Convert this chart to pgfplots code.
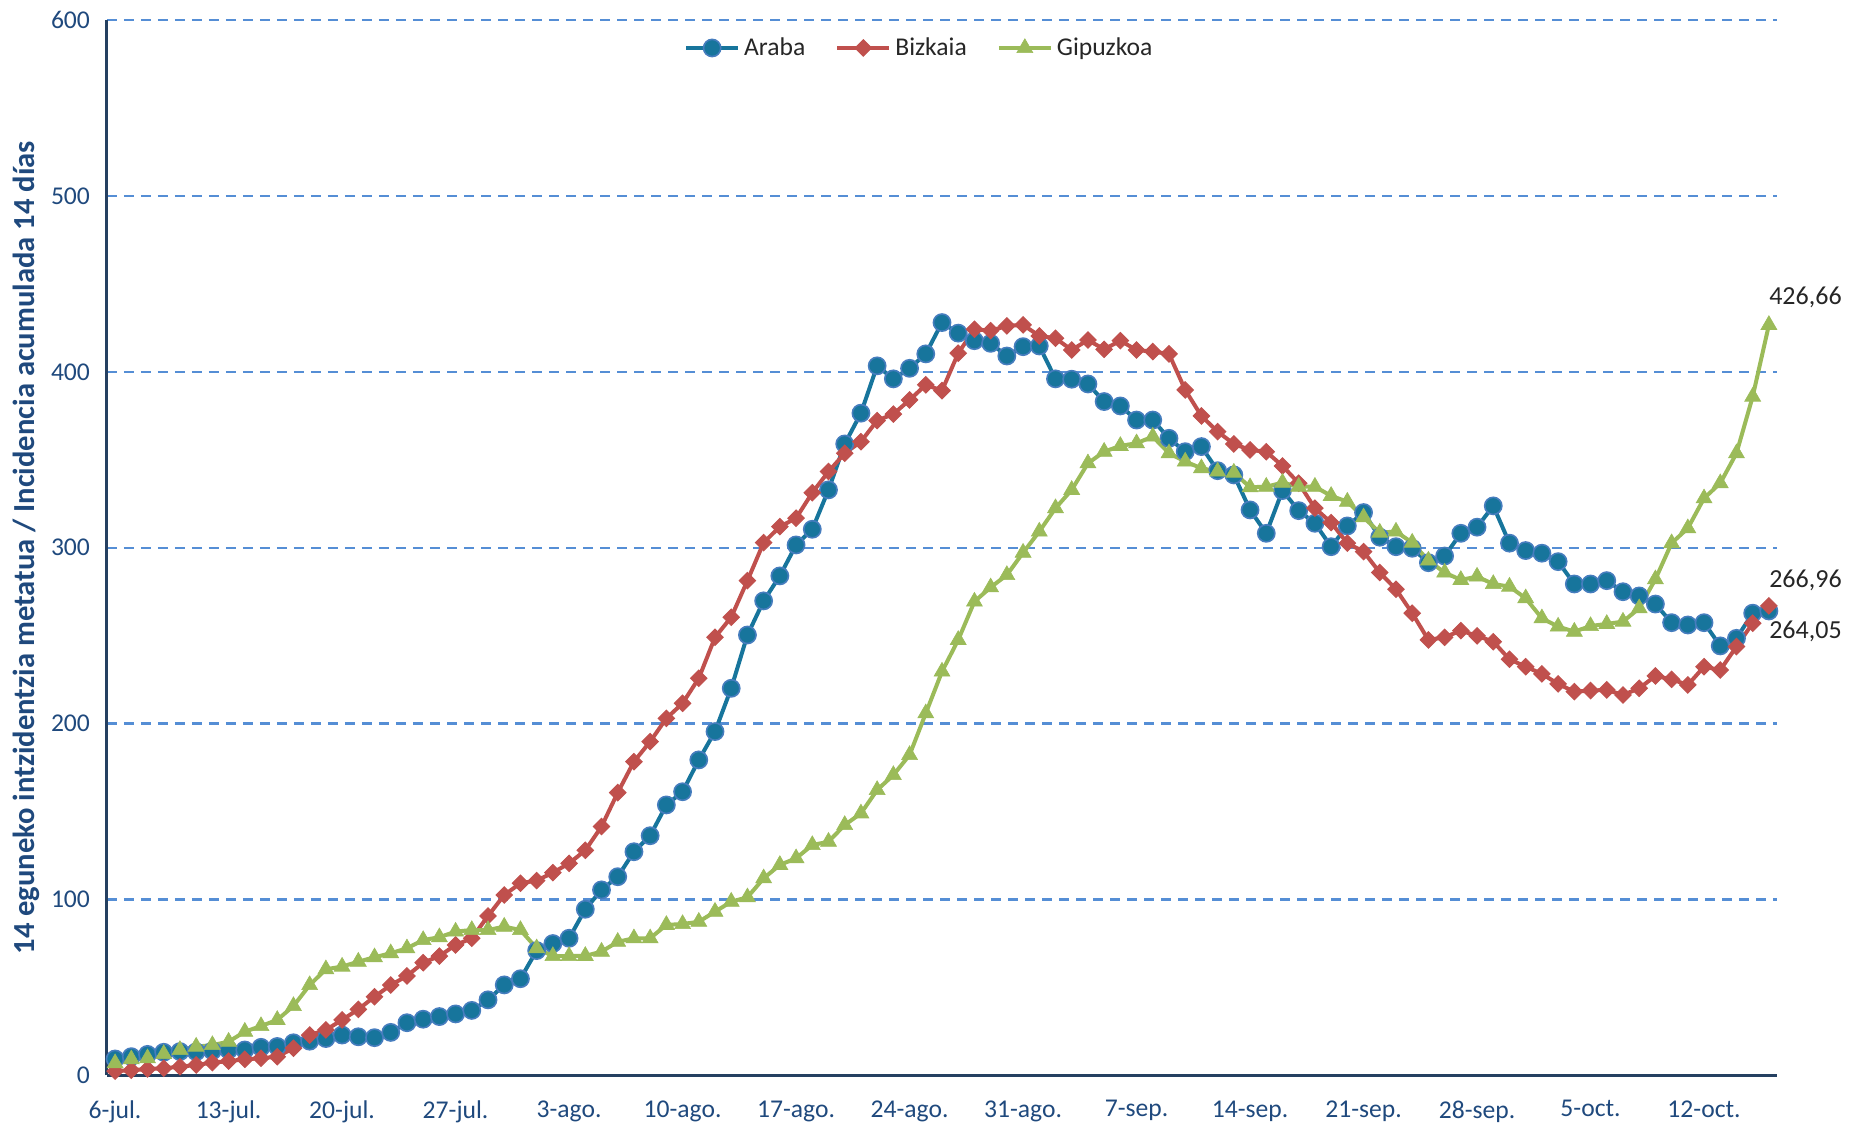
\documentclass[border=0pt]{standalone}
\usepackage{fontspec}
\setmainfont{Carlito}
\usepackage{pgfplots}
\pgfplotsset{compat=1.18}
\definecolor{araba}{RGB}{23,117,156}
\definecolor{arabaedge}{RGB}{70,125,190}
\definecolor{bizkaia}{RGB}{192,80,77}
\definecolor{gipuzkoa}{RGB}{155,187,89}
\definecolor{gridc}{RGB}{85,142,213}
\definecolor{axisc}{RGB}{37,64,97}
\definecolor{labc}{RGB}{31,73,125}
\begin{document}
\begin{tikzpicture}
\useasboundingbox (-53.5pt,-24.75pt) rectangle (871pt,537.75pt);
\begin{axis}[
  scale only axis,
  width=835pt, height=527.75pt,
  xmin=-0.5, xmax=102.5, ymin=0, ymax=600,
  axis lines*=left,
  axis line style={axisc, line width=1.5pt, -},
  clip=false,
  xtick={0,7,...,98},
  xticklabels={6-jul.,13-jul.,20-jul.,27-jul.,3-ago.,10-ago.,17-ago.,24-ago.,31-ago.,7-sep.,14-sep.,21-sep.,28-sep.,5-oct.,12-oct.},
  ytick={0,100,...,600},
  major tick length=0pt,
  ymajorgrids,
  grid style={gridc, line width=1.2pt, dash pattern=on 5pt off 3.5pt},
  /pgf/number format/assume math mode=true,
  tick label style={font=\fontsize{12.8}{14}\selectfont, text=labc},
  xticklabel style={yshift=-9pt},
  yticklabel style={xshift=-5pt},
  ylabel={14 eguneko intzidentzia metatua / Incidencia acumulada 14 días},
  ylabel style={font=\fontsize{15.3}{17}\selectfont\bfseries, text=labc, at={(axis description cs:-0.0485,0.5)}, anchor=center},
  legend columns=3,
  legend style={at={(axis description cs:0.487,0.9735)}, anchor=center, draw=none, fill=none,
    font=\fontsize{12.8}{14}\selectfont, text=black!85,
    /tikz/every even column/.append style={column sep=13pt}},
  legend image code/.code={\draw[mark repeat=2,mark phase=2] plot coordinates {(0pt,0pt) (13pt,0pt) (26pt,0pt)};},
]
\addplot[araba, line width=2pt, mark=*, mark size=4.3pt, mark options={fill=araba, draw=arabaedge, line width=0.8pt}] coordinates {
(0,9.4) (1,10.7) (2,12) (3,13.2) (4,13.6) (5,13.5) (6,14) (7,14.5) (8,14.5) (9,16) (10,16.5) (11,18.6) (12,19.5) (13,21) (14,23) (15,22) (16,21.5) (17,24.5) (18,30) (19,32) (20,33.5) (21,35) (22,37) (23,43) (24,51.5) (25,55) (26,71) (27,75) (28,78) (29,94.5) (30,105.5) (31,113) (32,127.2) (33,136.3) (34,153.8) (35,161.3) (36,179.4) (37,195.5) (38,220.1) (39,250.4) (40,269.8) (41,284) (42,301.6) (43,310.5) (44,332.9) (45,359) (46,376.5) (47,403.4) (48,396) (49,402) (50,410.2) (51,428) (52,422) (53,417.7) (54,416.2) (55,409) (56,414.3) (57,414.7) (58,396) (59,395.8) (60,393.1) (61,383.1) (62,380.6) (63,372.6) (64,372.6) (65,362.2) (66,354.6) (67,357.5) (68,343.8) (69,341.4) (70,321.5) (71,308.2) (72,332.5) (73,321.1) (74,313.9) (75,300.6) (76,312.4) (77,320) (78,306) (79,300.6) (80,299.7) (81,291.5) (82,295.3) (83,308.2) (84,311.7) (85,323.8) (86,302.6) (87,298.4) (88,296.9) (89,292.1) (90,279.4) (91,279.4) (92,281.3) (93,275) (94,272.6) (95,268) (96,257.4) (97,256.1) (98,257.4) (99,244.2) (100,248.5) (101,262.8) (102,264.05)};
\addlegendentry{Araba}
\addplot[bizkaia, line width=2pt, mark=square*, mark size=2.9pt, mark options={rotate=45, fill=bizkaia, draw=bizkaia, line width=0.5pt}] coordinates {
(0,2.5) (1,3) (2,3.7) (3,4.1) (4,5) (5,6) (6,7.3) (7,8.2) (8,9.2) (9,9.8) (10,10.7) (11,15.5) (12,23) (13,25.9) (14,31.6) (15,37.6) (16,44.8) (17,51.4) (18,56.6) (19,64.1) (20,67.9) (21,74.2) (22,78) (23,90.7) (24,102.6) (25,109.3) (26,110.8) (27,115.3) (28,120.6) (29,128) (30,141.5) (31,160.8) (32,178.4) (33,189.8) (34,203) (35,211.6) (36,225.8) (37,249.1) (38,260.5) (39,281.3) (40,302.9) (41,312) (42,316.8) (43,331.3) (44,343.3) (45,353.7) (46,360.3) (47,372.3) (48,376) (49,384) (50,392.6) (51,389.3) (52,410.6) (53,424.2) (54,423.4) (55,426.1) (56,426.7) (57,420.4) (58,419.1) (59,412.4) (60,418.1) (61,412.8) (62,417.7) (63,412.4) (64,411.5) (65,410.2) (66,389.7) (67,374.9) (68,366) (69,359) (70,355.6) (71,354.6) (72,346.5) (73,336.7) (74,322.5) (75,314.3) (76,302.6) (77,297.8) (78,285.9) (79,276.4) (80,262.8) (81,247.6) (82,249.1) (83,252.9) (84,249.9) (85,246.6) (86,236.6) (87,232.4) (88,228.3) (89,222.6) (90,218.2) (91,218.8) (92,219.2) (93,216.3) (94,220.1) (95,227.1) (96,225.2) (97,222) (98,232.4) (99,230.5) (100,243.8) (101,257.1) (102,266.96)};
\addlegendentry{Bizkaia}
\addplot[gipuzkoa, line width=2pt, mark=triangle*, mark size=4.6pt, mark options={fill=gipuzkoa, draw=gipuzkoa, line width=0.3pt}] coordinates {
(0,7) (1,9.2) (2,9.8) (3,12.2) (4,14.5) (5,16.4) (6,17.3) (7,19.2) (8,24.9) (9,28.1) (10,31.6) (11,39.5) (12,51.4) (13,60.4) (14,61.9) (15,64.7) (16,67.2) (17,69.5) (18,72.3) (19,77) (20,78.6) (21,81.8) (22,82.7) (23,82.7) (24,84.6) (25,82.7) (26,72.3) (27,67.9) (28,67.9) (29,68) (30,70.4) (31,76) (32,78) (33,78) (34,85.6) (35,86.1) (36,87.4) (37,93.1) (38,98.8) (39,101.3) (40,112.1) (41,119.7) (42,123.5) (43,131) (44,132.9) (45,142.4) (46,149) (47,162.3) (48,170.8) (49,182.2) (50,205.9) (51,229.6) (52,247.6) (53,269.4) (54,277.5) (55,284.5) (56,297.2) (57,309.2) (58,322.5) (59,332.9) (60,348) (61,354.6) (62,357.9) (63,359.4) (64,363.2) (65,353.7) (66,349) (67,345.2) (68,343.3) (69,342.7) (70,334.4) (71,334.7) (72,337) (73,334.7) (74,334.7) (75,329.5) (76,326.2) (77,317.3) (78,308.6) (79,309.2) (80,302.9) (81,292.7) (82,285.9) (83,281.7) (84,283.6) (85,279.4) (86,277.9) (87,271.3) (88,259.9) (89,255.2) (90,252.3) (91,255.5) (92,256.7) (93,258) (94,265.6) (95,282.1) (96,302.6) (97,311.1) (98,328.1) (99,336.7) (100,353.7) (101,385.9) (102,426.66)};
\addlegendentry{Gipuzkoa}
\node[anchor=west, inner sep=0pt, yshift=14pt, font=\fontsize{13}{15}\selectfont, text=black!85] at (axis cs:102,426.66) {426,66};
\node[anchor=west, inner sep=0pt, yshift=12.5pt, font=\fontsize{13}{15}\selectfont, text=black!85] at (axis cs:102,266.96) {266,96};
\node[anchor=west, inner sep=0pt, yshift=-10pt, font=\fontsize{13}{15}\selectfont, text=black!85] at (axis cs:102,264.05) {264,05};
\end{axis}
\end{tikzpicture}
\end{document}
